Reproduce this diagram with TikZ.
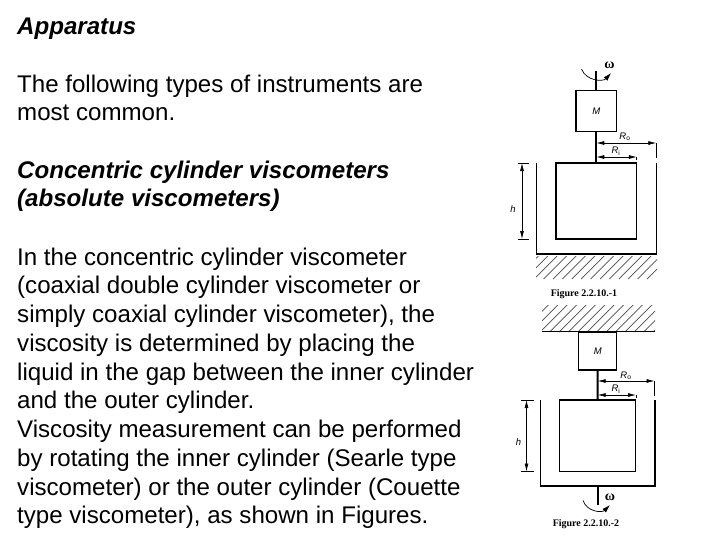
\documentclass[tikz,border=0pt]{standalone}
\usepackage{fontspec}
\setmainfont{Liberation Sans}
\newfontfamily\figfont{Liberation Serif}
\usetikzlibrary{arrows.meta,calc}
\pgfkeys{tikz/mytext/.style={anchor=base west,inner sep=0pt,font=\fontsize{24.1}{29}\selectfont}}
\pgfkeys{tikz/myhead/.style={mytext,font=\fontsize{24.1}{29}\selectfont\bfseries\itshape}}
\pgfkeys{tikz/mycaption/.style={inner sep=0pt,font=\figfont\bfseries\fontsize{10}{12}\selectfont}}
\pgfkeys{tikz/mylabel/.style={inner sep=0pt,font=\itshape\fontsize{9.5}{11}\selectfont}}
\pgfkeys{tikz/myomega/.style={inner sep=0pt,font=\figfont\bfseries\fontsize{14}{16}\selectfont}}
\pgfkeys{tikz/mybox/.style={draw,line width=1.3pt,inner sep=0pt}}
\pgfkeys{tikz/mywall/.style={line width=1.5pt}}
\pgfkeys{tikz/myshaft/.style={line width=2pt}}
\pgfkeys{tikz/mythin/.style={line width=0.7pt}}
\pgfkeys{tikz/mydim/.style={mythin,{Latex[length=8pt,width=4pt]}-{Latex[length=8pt,width=4pt]}}}
\pgfkeys{tikz/myturn/.style={mythin,-{Latex[length=8pt,width=5pt]}}}
\pgfkeys{tikz/myhatch/.style={line width=0.7pt,black!70}}
\newcommand*\myhatching[4]{
    \begin{scope}
        \clip (#1,#3) rectangle (#2,#4);
        \foreach \hx in {0,9.4,...,150} {
            \draw[myhatch] (#1-30+\hx,#4) -- ++(30,-30);
        }
    \end{scope}
}
\begin{document}
\begin{tikzpicture}[x=1pt,y=-1pt]
    \useasboundingbox[fill=white] (0,0) rectangle (728,546);
    % text column
    \node[myhead] (title) at (17,34) {Apparatus};
    \node[mytext] (line1) at (17,92) {The following types of instruments are};
    \node[mytext] (line2) at (17,120.5) {most common.};
    \node[myhead] (sub1) at (17,178) {Concentric cylinder viscometers};
    \node[myhead] (sub2) at (17,206.5) {(absolute viscometers)};
    \node[mytext] (line3) at (17,265) {In the concentric cylinder viscometer};
    \node[mytext] (line4) at (17,293.5) {(coaxial double cylinder viscometer or};
    \node[mytext] (line5) at (17,322) {simply coaxial cylinder viscometer), the};
    \node[mytext] (line6) at (17,351) {viscosity is determined by placing the};
    \node[mytext] (line7) at (17,380) {liquid in the gap between the inner cylinder};
    \node[mytext] (line8) at (17,408.5) {and the outer cylinder.};
    \node[mytext] (line9) at (17,437) {Viscosity measurement can be performed};
    \node[mytext] (line10) at (17,466) {by rotating the inner cylinder (Searle type};
    \node[mytext] (line11) at (17,495) {viscometer) or the outer cylinder (Couette};
    \node[mytext] (line12) at (17,523.5) {type viscometer), as shown in Figures.};
    % first figure
    \node[mybox,minimum width=40.5,minimum height=40.5] (massa) at (596.3,111) {};
    \node[mylabel] (massalabel) at (massa.center) {M};
    \node[mybox,minimum width=80.5,minimum height=76] (innera) at (596.3,201) {};
    \coordinate (outeraleft) at (536.5,163);
    \coordinate (outeraright) at (656.5,163);
    \coordinate (outerabot) at (596.5,254);
    \draw[mywall] (outeraleft) |- (outerabot) -| (outeraright);
    \coordinate (shaftatop) at (massa.north |- 0,71);
    \draw[myshaft] (shaftatop) -- (massa.north);
    \draw[myshaft] (massa.south) -- (innera.north);
    \myhatching{536}{657}{256}{279}
    \coordinate (turnastart) at (581.5,69);
    \coordinate (turnaend) at (611,73);
    \draw[myturn] (turnastart) .. controls (586,81) and (603,82) .. (turnaend);
    \node[myomega] (omegaa) at (609.5,65) {ω};
    \coordinate (roa) at (massa.south |- 0,143);
    \coordinate (roaend) at (656.3,143);
    \draw[mydim] (roa) -- (roaend);
    \draw[mythin] (roaend) -- ++(0,15);
    \node[mylabel] (roalabel) at (625,137) {R$_{\mathrm{o}}$};
    \coordinate (ria) at (massa.south |- 0,157);
    \coordinate (riaend) at (636.8,157);
    \draw[mydim] (ria) -- (riaend);
    \draw[mythin] (riaend) -- ++(0,3);
    \node[mylabel] (rialabel) at (616,151) {R$_{\mathrm{i}}$};
    \coordinate (hatop) at (522,163);
    \coordinate (habot) at (522,239);
    \draw[mydim] (hatop) -- (habot);
    \draw[mythin] (518,163) -- (529,163) (518,239) -- (529,239);
    \node[mylabel] (halabel) at (513,209) {h};
    \node[mycaption] (captiona) at (584,294) {Figure 2.2.10.-1};
    % second figure
    \myhatching{542}{655}{305}{332}
    \draw[line width=1pt] (542,331.5) -- (655,331.5);
    \node[mybox,minimum width=38,minimum height=38] (massb) at (597.7,351) {};
    \node[mylabel] (massblabel) at (massb.center) {M};
    \node[mybox,minimum width=76,minimum height=71.5] (innerb) at (597.5,435.7) {};
    \coordinate (outerbleft) at (540.7,400);
    \coordinate (outerbright) at (655,400);
    \coordinate (outerbbot) at (597.7,486);
    \draw[mywall] (outerbleft) |- (outerbbot) -| (outerbright);
    \draw[myshaft] (massb.south) -- (innerb.north);
    \coordinate (shaftbend) at (outerbbot |- 0,505);
    \draw[myshaft] (outerbbot) -- (shaftbend);
    \coordinate (turnbstart) at (583,500.5);
    \coordinate (turnbend) at (610,505);
    \draw[myturn] (turnbstart) .. controls (587,512) and (602,513) .. (turnbend);
    \node[myomega] (omegab) at (610,497) {ω};
    \coordinate (rob) at (massb.south |- 0,381);
    \coordinate (robend) at (654.5,381);
    \draw[mydim] (rob) -- (robend);
    \draw[mythin] (robend) -- ++(0,15);
    \node[mylabel] (roblabel) at (626,376) {R$_{\mathrm{o}}$};
    \coordinate (rib) at (massb.south |- 0,395);
    \coordinate (ribend) at (636,395);
    \draw[mydim] (rib) -- (ribend);
    \draw[mythin] (ribend) -- ++(0,3);
    \node[mylabel] (riblabel) at (616,389) {R$_{\mathrm{i}}$};
    \coordinate (hbtop) at (526.5,400);
    \coordinate (hbbot) at (526.5,471.5);
    \draw[mydim] (hbtop) -- (hbbot);
    \draw[mythin] (521,400) -- (534,400) (521,471.5) -- (534,471.5);
    \node[mylabel] (hblabel) at (518.5,442) {h};
    \node[mycaption] (captionb) at (586,524.5) {Figure 2.2.10.-2};
\end{tikzpicture}
\end{document}
